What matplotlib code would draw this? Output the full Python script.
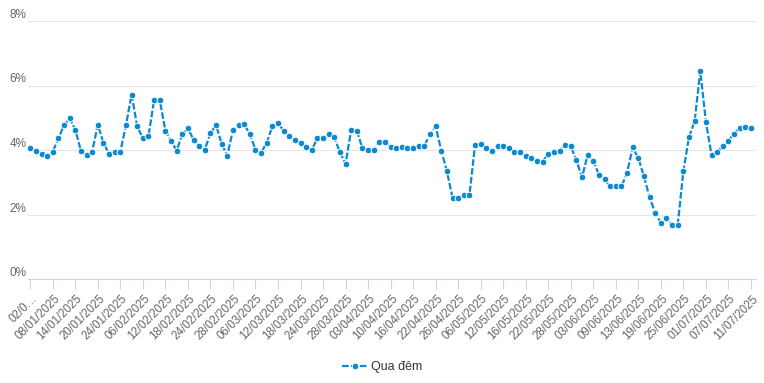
import matplotlib
matplotlib.use("Agg")
import matplotlib.pyplot as plt
import matplotlib.transforms as mtransforms

plt.rcParams['font.family'] = ['Liberation Sans', 'DejaVu Sans']

# nhãn trục x (mỗi 4 phiên một nhãn)
tick_labels = ["02/0…", "08/01/2025", "14/01/2025", "20/01/2025", "24/01/2025",
               "06/02/2025", "12/02/2025", "18/02/2025", "24/02/2025", "28/02/2025",
               "06/03/2025", "12/03/2025", "18/03/2025", "24/03/2025", "28/03/2025",
               "03/04/2025", "10/04/2025", "16/04/2025", "22/04/2025", "26/04/2025",
               "06/05/2025", "12/05/2025", "16/05/2025", "22/05/2025", "28/05/2025",
               "03/06/2025", "09/06/2025", "13/06/2025", "19/06/2025", "25/06/2025",
               "01/07/2025", "07/07/2025", "11/07/2025"]
tick_step = 4

# lãi suất qua đêm (%)
qua_dem = [4.05, 3.98, 3.88, 3.81, 3.95, 4.36, 4.77, 4.98, 4.63, 3.98,
           3.85, 3.95, 4.79, 4.22, 3.88, 3.95, 3.95, 4.77, 5.72, 4.73,
           4.36, 4.43, 5.55, 5.55, 4.60, 4.29, 3.98, 4.49, 4.67, 4.32,
           4.11, 4.01, 4.52, 4.77, 4.19, 3.82, 4.63, 4.77, 4.80, 4.49,
           4.01, 3.91, 4.23, 4.73, 4.83, 4.60, 4.43, 4.30, 4.23, 4.08,
           4.01, 4.36, 4.36, 4.49, 4.39, 3.93, 3.57, 4.63, 4.60, 4.05,
           4.01, 4.01, 4.26, 4.26, 4.08, 4.05, 4.08, 4.05, 4.05, 4.13,
           4.13, 4.49, 4.73, 3.98, 3.34, 2.52, 2.52, 2.59, 2.59, 4.16,
           4.19, 4.05, 3.98, 4.13, 4.13, 4.05, 3.95, 3.95, 3.81, 3.74,
           3.67, 3.64, 3.89, 3.95, 3.98, 4.15, 4.12, 3.68, 3.15, 3.85,
           3.67, 3.23, 3.09, 2.87, 2.87, 2.87, 3.29, 4.08, 3.75, 3.18,
           2.53, 2.05, 1.74, 1.89, 1.68, 1.68, 3.34, 4.40, 4.89, 6.46,
           4.87, 3.85, 3.95, 4.11, 4.29, 4.51, 4.68, 4.72, 4.68]

y_ticks = [0, 2, 4, 6, 8]

fig = plt.figure(figsize=(7.64, 3.83), dpi=100)
ax = fig.add_axes([28 / 764, 1 - 279 / 383, 728 / 764, 258 / 383])

x = list(range(len(qua_dem)))
ax.plot(x, qua_dem, color='#0b8ad0', lw=1.6, linestyle=(0, (3, 1)),
        marker='o', markersize=4.8, markerfacecolor='#0b8ad0',
        markeredgecolor='white', markeredgewidth=0.7, label='Qua đêm', zorder=3)

ax.set_xlim(-0.4, 128.9)
ax.set_ylim(0, 8)

ax.set_yticks(y_ticks)
ax.set_yticklabels([f"{v}%" for v in y_ticks])
ax.grid(axis='y', color='#e6e6e6', lw=0.8)
ax.set_axisbelow(True)
ax.tick_params(axis='y', length=0, pad=1, labelsize=8.5, labelcolor='#666666')
for lab in ax.get_yticklabels():
    lab.set_va('bottom')

ax.set_xticks(list(range(0, len(qua_dem), tick_step)))
ax.set_xticklabels(tick_labels, rotation=45, ha='right', rotation_mode='anchor')
ax.tick_params(axis='x', length=7, width=0.8, color='#ccd6eb', pad=3,
               labelsize=8.3, labelcolor='#666666')
offset = mtransforms.ScaledTranslation(1 / 100, 0, fig.dpi_scale_trans)
for lab in ax.get_xticklabels():
    lab.set_transform(lab.get_transform() + offset)

for s in ['top', 'right', 'left']:
    ax.spines[s].set_visible(False)
ax.spines['bottom'].set_color('#ccd6eb')
ax.spines['bottom'].set_linewidth(0.8)

fig.legend(loc='center', bbox_to_anchor=(0.5, 1 - 367 / 383), frameon=False,
           fontsize=9, labelcolor='#333333', handlelength=2.0, handletextpad=0.3)

fig.savefig('out.png', dpi=100)
